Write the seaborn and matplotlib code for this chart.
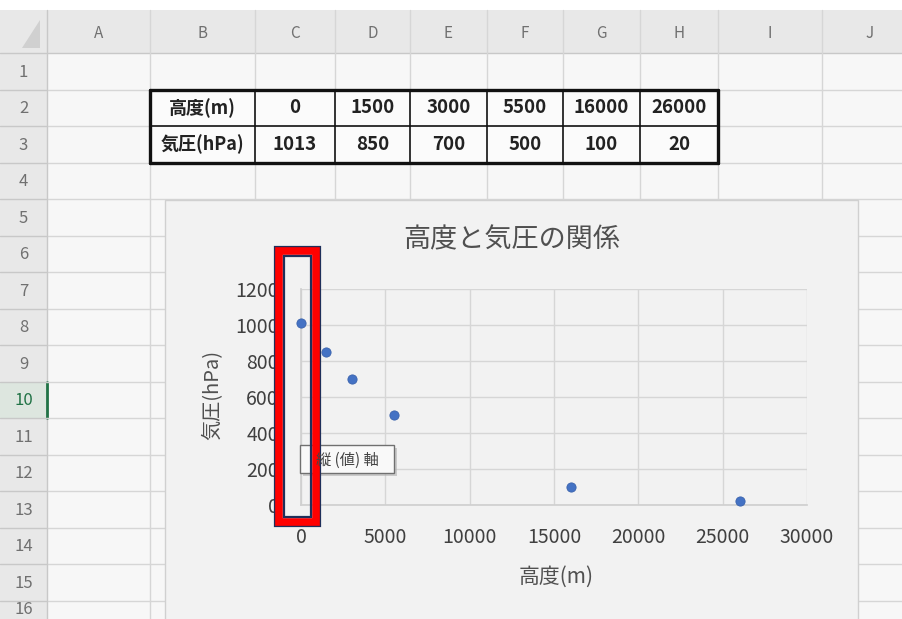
import matplotlib
matplotlib.use("Agg")
import matplotlib.pyplot as plt
from matplotlib.patches import Rectangle
import seaborn as sns
import pandas as pd

# --- data -------------------------------------------------------------
altitude_m = [0, 1500, 3000, 5500, 16000, 26000]
pressure_hpa = [1013, 850, 700, 500, 100, 20]
row_titles = ["高度(m)", "気圧(hPa)"]
column_letters = ["A", "B", "C", "D", "E", "F", "G", "H", "I", "J"]
row_numbers = list(range(1, 17))
x_ticks = [0, 5000, 10000, 15000, 20000, 25000, 30000]
y_ticks = [0, 200, 400, 600, 800, 1000, 1200]
chart_title = "高度と気圧の関係"
x_label = "高度(m)"
y_label = "気圧(hPa)"
tooltip_text = "縦 (値) 軸"

sns.set_theme(style="white")
JP = ["Noto Sans CJK JP", "DejaVu Sans"]
plt.rcParams["font.family"] = JP

W, H = 903, 619
fig = plt.figure(figsize=(W / 100, H / 100), dpi=100)
fig.patch.set_facecolor("#ffffff")

# --- worksheet background (pixel coordinates) ---------------------------
bg = fig.add_axes([0, 0, 1, 1], zorder=0)
bg.set_xlim(0, W)
bg.set_ylim(H, 0)
bg.axis("off")

col_edges = [47, 150, 255, 335, 410, 487, 563, 640, 718, 822, 918]
hdr_top, hdr_bot = 10, 53
row_h = 36.5
row_edges = [hdr_bot + row_h * i for i in range(len(row_numbers) + 1)]

bg.add_patch(Rectangle((0, hdr_top), W, H - hdr_top, fc="#f7f7f7", ec="none", zorder=0))
# column header band and row header strip
bg.add_patch(Rectangle((0, hdr_top), W, hdr_bot - hdr_top, fc="#e8e8e8", ec="none", zorder=0))
bg.add_patch(Rectangle((0, hdr_top), col_edges[0], H - hdr_top, fc="#e8e8e8", ec="none", zorder=0))
bg.plot([0, W], [hdr_bot, hdr_bot], color="#c8c8c8", lw=1)
bg.plot([col_edges[0], col_edges[0]], [hdr_top, H], color="#c8c8c8", lw=1)
# corner triangle
bg.fill([40, 40, 22], [20, 48, 48], color="#d0d0d0", lw=0)

# active row header (row 10)
r10 = row_numbers.index(10)
bg.add_patch(Rectangle((0, row_edges[r10]), col_edges[0], row_h, fc="#dde6df", ec="none"))
bg.plot([col_edges[0], col_edges[0]], [row_edges[r10], row_edges[r10 + 1]], color="#217346", lw=2)

for i, letter in enumerate(column_letters):
    x0, x1 = col_edges[i], col_edges[i + 1]
    bg.plot([x1, x1], [hdr_top, H], color="#d6d6d6", lw=1)
    bg.text((x0 + x1) / 2, (hdr_top + hdr_bot) / 2 + 2, letter, ha="center", va="center",
            fontsize=11, color="#707070", family=JP)
for i, num in enumerate(row_numbers):
    y0, y1 = row_edges[i], row_edges[i + 1]
    bg.plot([col_edges[0], W], [y1, y1], color="#d6d6d6", lw=1)
    bg.plot([0, col_edges[0]], [y1, y1], color="#c8c8c8", lw=1)
    yc = min((y0 + y1) / 2 + 1, H - 9)
    bg.text(col_edges[0] / 2, yc, str(num), ha="center", va="center",
            fontsize=12, color="#217346" if num == 10 else "#707070", family=JP)

# data table in rows 2-3, columns B-H
n_cols = 1 + len(altitude_m)
t_top, t_mid, t_bot = row_edges[1], row_edges[2], row_edges[3]
t_left, t_right = col_edges[1], col_edges[1 + n_cols]
bg.add_patch(Rectangle((t_left, t_top), t_right - t_left, t_bot - t_top, fc="#fbfbfb",
                       ec="none", zorder=2.5))
for c in range(1, 2 + n_cols):
    lw = 2.4 if c in (1, 1 + n_cols) else 1.2
    bg.plot([col_edges[c], col_edges[c]], [t_top, t_bot], color="#111111", lw=lw, zorder=3)
bg.plot([t_left, t_right], [t_top, t_top], color="#111111", lw=2.4, zorder=3)
bg.plot([t_left, t_right], [t_mid, t_mid], color="#111111", lw=1.2, zorder=3)
bg.plot([t_left, t_right], [t_bot, t_bot], color="#111111", lw=2.4, zorder=3)
rows_vals = [altitude_m, pressure_hpa]
for r, (title, vals) in enumerate(zip(row_titles, rows_vals)):
    yc = (row_edges[1 + r] + row_edges[2 + r]) / 2
    bg.text((col_edges[1] + col_edges[2]) / 2, yc, title, ha="center", va="center",
            fontsize=13, color="#222222", family=JP, fontweight="bold", zorder=4)
    for c, v in enumerate(vals):
        bg.text((col_edges[2 + c] + col_edges[3 + c]) / 2, yc, str(v), ha="center",
                va="center", fontsize=13.5, color="#222222", family=JP,
                fontweight="bold", zorder=4)

# chart area
bg.add_patch(Rectangle((165, 200), 858 - 165, 460, fc="#f2f2f2", ec="#d0d0d0", lw=1,
                       zorder=5))
bg.text(512, 240, chart_title, ha="center", va="center", fontsize=19.5,
        color="#505050", family=JP, zorder=6)

# --- scatter plot -------------------------------------------------------
pl, pr, pt, pb = 301, 807, 289, 505
ax = fig.add_axes([pl / W, (H - pb) / H, (pr - pl) / W, (pb - pt) / H], zorder=1)
ax.set_facecolor("none")
df = pd.DataFrame({"altitude": altitude_m, "pressure": pressure_hpa})
sns.scatterplot(data=df, x="altitude", y="pressure", ax=ax, color="#4472C4",
                s=44, edgecolor="#3a63ad", linewidth=0.6, zorder=3, clip_on=False)
ax.set_xlim(x_ticks[0], x_ticks[-1])
ax.set_ylim(y_ticks[0], y_ticks[-1])
ax.set_xticks(x_ticks)
ax.set_yticks(y_ticks)
ax.grid(True, color="#d6d6d6", lw=1)
for side in ("top", "right"):
    ax.spines[side].set_visible(False)
ax.spines["left"].set_color("#d0d0d0")
ax.spines["bottom"].set_color("#d0d0d0")
ax.tick_params(axis="both", length=0, labelsize=14, labelcolor="#404040")
ax.tick_params(axis="y", pad=16)
ax.tick_params(axis="x", pad=16)
for lab in ax.get_xticklabels() + ax.get_yticklabels():
    lab.set_family(JP)
ax.set_xlabel(x_label, fontsize=15, color="#505050", family=JP)
ax.set_ylabel(y_label, fontsize=14.5, color="#505050", family=JP)
ax.yaxis.set_label_coords((213 - pl) / (pr - pl), (pb - 395) / (pb - pt))
ax.xaxis.set_label_coords((556 - pl) / (pr - pl), (pb - 577) / (pb - pt))
ax.xaxis.label.set_va("center")
ax.yaxis.label.set_va("center")

# --- overlay: axis tooltip and selection frame --------------------------
ov = fig.add_axes([0, 0, 1, 1], zorder=5)
ov.set_xlim(0, W)
ov.set_ylim(H, 0)
ov.axis("off")
ov.patch.set_alpha(0)
ov.add_patch(Rectangle((303, 448), 94, 28, fc="#b0b0b0", ec="none", alpha=0.6))
ov.add_patch(Rectangle((300, 445), 94, 28, fc="#f9f9f9", ec="#707070", lw=1))
ov.text(347, 460, tooltip_text, ha="center", va="center", fontsize=11,
        color="#444444", family=JP)

ov.add_patch(Rectangle((275, 247), 45, 279, fc="none", ec="#1f2f5a", lw=1.6))
ov.add_patch(Rectangle((279, 251), 37, 271, fc="none", ec="#ff0000", lw=5.5))
ov.add_patch(Rectangle((284, 256), 27, 261, fc="none", ec="#1f2f5a", lw=1.6))

fig.savefig("out.png", dpi=100)
